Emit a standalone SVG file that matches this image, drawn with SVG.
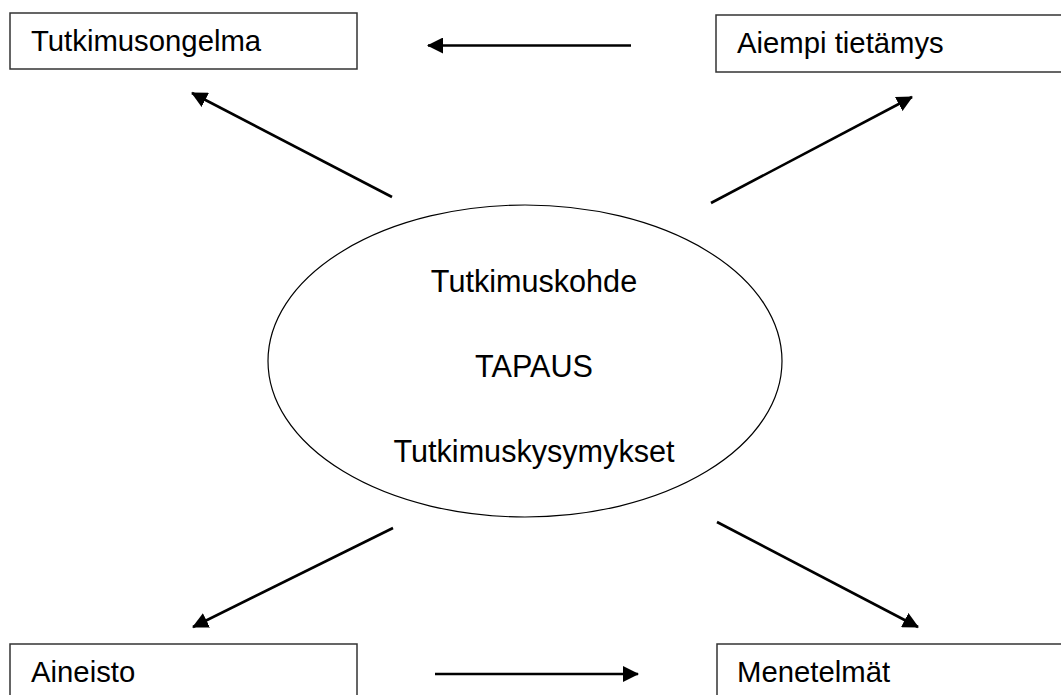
<svg xmlns="http://www.w3.org/2000/svg" width="1061" height="695" viewBox="0 0 1061 695">
<style>
.box{fill:#fff;stroke:#333;stroke-width:1.5}
.lbl{font-family:"Liberation Sans",Arial,sans-serif;font-size:29.3px;fill:#000}
.ctr{text-anchor:middle;font-size:30.6px}
.arr{stroke:#000;stroke-width:2.6;fill:none;marker-end:url(#ah)}
</style>
<defs>
<marker id="ah" markerUnits="userSpaceOnUse" markerWidth="16" markerHeight="16" viewBox="0 0 16 16" refX="15" refY="8" orient="auto">
<path d="M0,0 L16,8 L0,16 Z" fill="#000"/>
</marker>
</defs>
<rect width="1061" height="695" fill="#fff"/>
<g id="tutkimusongelma"><rect class="box" x="10" y="13" width="347" height="56"/><text class="lbl" x="31" y="51">Tutkimusongelma</text></g>
<g id="aiempi"><rect class="box" x="716" y="15" width="360" height="57"/><text class="lbl" x="737" y="53">Aiempi tietämys</text></g>
<g id="aineisto"><rect class="box" x="10" y="644" width="347" height="70"/><text class="lbl" x="31" y="682">Aineisto</text></g>
<g id="menetelmat"><rect class="box" x="717" y="644" width="360" height="70"/><text class="lbl" x="737" y="682">Menetelmät</text></g>
<g id="tapaus"><ellipse cx="525" cy="361" rx="257" ry="156" fill="#fff" stroke="#000" stroke-width="1.2"/>
<text class="lbl ctr" x="534" y="292">Tutkimuskohde</text>
<text class="lbl ctr" x="534" y="377">TAPAUS</text>
<text class="lbl ctr" x="534" y="462">Tutkimuskysymykset</text></g>
<g id="connectors">
<line class="arr" x1="631" y1="45.5" x2="428" y2="45.5"/>
<line class="arr" x1="435" y1="674" x2="638" y2="674"/>
<line class="arr" x1="392" y1="197" x2="192" y2="93"/>
<line class="arr" x1="711" y1="203" x2="912" y2="97"/>
<line class="arr" x1="393" y1="528" x2="193" y2="627"/>
<line class="arr" x1="717" y1="522" x2="918" y2="627"/>
</g>
</svg>
